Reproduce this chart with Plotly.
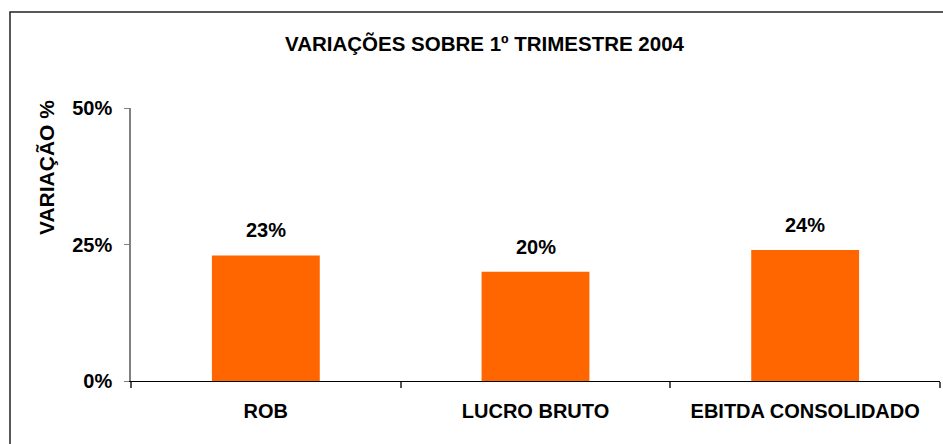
import plotly.graph_objects as go

categories = ["ROB", "LUCRO BRUTO", "EBITDA CONSOLIDADO"]
values = [0.23, 0.20, 0.24]
value_labels = ["23%", "20%", "24%"]
y_ticks = [0, 0.25, 0.5]
y_tick_labels = ["0%", "25%", "50%"]
title_text = "VARIAÇÕES SOBRE 1º TRIMESTRE 2004"
y_title_text = "VARIAÇÃO %"

W, H = 943, 444
L, R, T, B = 131, 3, 108, 63
pw, ph = W - L - R, H - T - B

def px_to_paper_x(x):
    return (x - L) / pw

def px_to_paper_y(y):
    return (H - B - y) / ph

font_family = "Liberation Sans, Arial, sans-serif"

fig = go.Figure(go.Bar(
    x=categories, y=values,
    marker=dict(color="#FF6600", line=dict(width=0)),
    cliponaxis=False, hoverinfo="skip",
))

value_annotations = [
    dict(x=c, y=v, xref="x", yref="y", text=t, showarrow=False,
         xanchor="center", yanchor="bottom", yshift=12,
         font=dict(size=20, weight="bold", color="black"))
    for c, v, t in zip(categories, values, value_labels)
]

fig.update_layout(
    width=W, height=H,
    margin=dict(l=L, r=R, t=T, b=B, autoexpand=False),
    paper_bgcolor="white", plot_bgcolor="white",
    bargap=0.6,
    showlegend=False,
    font=dict(family=font_family, color="black"),
    xaxis=dict(
        showline=True, linecolor="black", linewidth=1.2,
        ticks="outside", tickson="boundaries", ticklen=6, tickcolor="#555555", tickwidth=1.5,
        tickfont=dict(size=20, weight="bold"), ticklabelstandoff=12,
        showgrid=False, zeroline=False,
    ),
    yaxis=dict(
        range=[0, 0.5], tickvals=y_ticks, ticktext=y_tick_labels,
        showline=True, linecolor="#808080", linewidth=1.5,
        ticks="outside", ticklen=5, tickcolor="#808080", tickwidth=1.2,
        tickfont=dict(size=20, weight="bold"), ticklabelstandoff=8,
        showgrid=False, zeroline=False,
    ),
    shapes=[dict(
        type="rect", xref="paper", yref="paper",
        x0=px_to_paper_x(10), x1=px_to_paper_x(960),
        y0=px_to_paper_y(460), y1=px_to_paper_y(12),
        line=dict(color="#222222", width=1.5), fillcolor="rgba(0,0,0,0)", layer="below",
    )],
    annotations=value_annotations + [
        dict(text=title_text, xref="paper", yref="paper",
             x=px_to_paper_x(485), y=px_to_paper_y(44), showarrow=False,
             xanchor="center", yanchor="middle",
             font=dict(size=20.5, weight="bold", color="black")),
        dict(text=y_title_text, xref="paper", yref="paper",
             x=px_to_paper_x(46), y=px_to_paper_y(168), showarrow=False,
             textangle=-90, xanchor="center", yanchor="middle",
             font=dict(size=21, weight="bold", color="black")),
    ],
)

fig.write_html(
    "out.html",
    config={"displayModeBar": False},
    post_script="document.body.style.margin='0';document.body.style.overflow='hidden';",
)
